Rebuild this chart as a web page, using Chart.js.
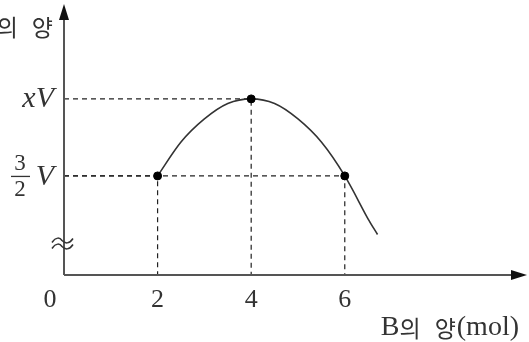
<!DOCTYPE html>
<html>
<head>
<meta charset="utf-8">
<script src="https://cdn.jsdelivr.net/npm/chart.js@4"></script>
<style>
  html, body { margin: 0; padding: 0; background: #fff; }
  #wrap { width: 529px; height: 342px; }
</style>
</head>
<body>
<div id="wrap"><canvas id="chart"></canvas></div>
<script>
// curve (B mol vs gas amount, arbitrary units; 3/2V = 1.5, xV = 2)
const curveX = [2, 2.5, 3, 3.5, 4, 4.5, 5, 5.5, 6, 6.5, 6.7];
const curveY = [1.5, 1.72, 1.87, 1.97, 2.0, 1.97, 1.87, 1.72, 1.5, 1.22, 1.12];

// marked points
const markX = [2, 4, 6];
const markY = [1.5, 2.0, 1.5];

const xTicks = [2, 4, 6];
const yTickVals = [2.0, 1.5];

const X_MIN = 0, X_MAX = 9.83;
const Y_MIN = 0.857, Y_MAX = 2.59;

const ink = "#222";
const axisColor = "#555";
const serif = "'Liberation Serif', 'DejaVu Serif', serif";
const kr = "'Noto Sans CJK KR', sans-serif";

const curveData = curveX.map((x, i) => ({ x, y: curveY[i] }));
const markData = markX.map((x, i) => ({ x, y: markY[i] }));

// dashed guides: from y-axis to the point, then down to the x-axis
const guideSets = markX.map((x, i) => ({
  data: [{ x: X_MIN, y: markY[i] }, { x, y: markY[i] }, { x, y: Y_MIN }],
  borderColor: ink,
  borderWidth: 1.2,
  borderDash: [5, 4],
  pointRadius: 0,
  showLine: true,
  fill: false,
  order: 3
}));

// draws text pieces with mixed fonts, ending at xRight
function drawPieces(ctx, pieces, xRight, y) {
  let total = 0;
  pieces.forEach(p => { ctx.font = p.font; p.w = ctx.measureText(p.text).width; total += p.w + (p.gap || 0); });
  let x = xRight - total;
  ctx.textAlign = "left";
  pieces.forEach(p => { ctx.font = p.font; x += (p.gap || 0); ctx.fillText(p.text, x, y); x += p.w; });
}

const axesPlugin = {
  id: "axesPlugin",
  afterDraw(chart) {
    const { ctx, chartArea, scales } = chart;
    const x0 = scales.x.getPixelForValue(X_MIN);
    const y0 = scales.y.getPixelForValue(Y_MIN);
    ctx.save();

    // axes
    ctx.strokeStyle = axisColor;
    ctx.lineWidth = 2;
    ctx.beginPath();
    ctx.moveTo(x0, y0);
    ctx.lineTo(x0, chartArea.top + 8);
    ctx.moveTo(x0, y0);
    ctx.lineTo(chartArea.right - 8, y0);
    ctx.stroke();
    // arrow heads
    ctx.fillStyle = "#111";
    ctx.beginPath();
    ctx.moveTo(x0, chartArea.top - 4);
    ctx.lineTo(x0 - 5, chartArea.top + 12);
    ctx.lineTo(x0 + 5, chartArea.top + 12);
    ctx.closePath();
    ctx.fill();
    ctx.beginPath();
    ctx.moveTo(chartArea.right + 3, y0);
    ctx.lineTo(chartArea.right - 13, y0 - 5);
    ctx.lineTo(chartArea.right - 13, y0 + 5);
    ctx.closePath();
    ctx.fill();

    // axis break mark
    ctx.strokeStyle = "#333";
    ctx.lineWidth = 1.5;
    [240.5, 246.5].forEach(by => {
      ctx.beginPath();
      ctx.moveTo(52, by + 2);
      ctx.bezierCurveTo(56, by - 4, 60, by - 3, 62, by);
      ctx.bezierCurveTo(65, by + 3, 69, by + 4, 73, by - 2);
      ctx.stroke();
    });

    // x tick labels
    ctx.fillStyle = "#333";
    ctx.font = "26px " + serif;
    ctx.textAlign = "center";
    ctx.textBaseline = "middle";
    xTicks.forEach(v => {
      ctx.fillText(String(v), scales.x.getPixelForValue(v), 300);
    });
    ctx.fillText("0", x0 - 14, 300);

    // x axis title
    drawPieces(ctx, [
      { text: "B", font: "28px " + serif },
      { text: "의", font: "23px " + kr },
      { text: "양", font: "23px " + kr, gap: 14 },
      { text: "(mol)", font: "28px " + serif, gap: 1 }
    ], 519, 328);

    // y axis title (clipped at the left edge like the original)
    drawPieces(ctx, [
      { text: "의", font: "23px " + kr },
      { text: "양", font: "23px " + kr, gap: 14 }
    ], 53, 27);

    // y tick labels
    const yx = scales.y.getPixelForValue(yTickVals[0]);
    const yf = scales.y.getPixelForValue(yTickVals[1]);
    ctx.font = "italic 30px " + serif;
    ctx.textAlign = "right";
    ctx.fillText("xV", 54, yx);
    ctx.fillText("V", 54, yf + 1);
    ctx.font = "23px " + serif;
    ctx.textAlign = "center";
    ctx.fillText("3", 20, yf - 12);
    ctx.fillText("2", 20, yf + 14);
    ctx.lineWidth = 1.3;
    ctx.strokeStyle = "#333";
    ctx.beginPath();
    ctx.moveTo(11, yf + 0.5);
    ctx.lineTo(30, yf + 0.5);
    ctx.stroke();

    ctx.restore();
  }
};

new Chart(document.getElementById("chart"), {
  type: "scatter",
  data: {
    datasets: [
      {
        data: markData,
        backgroundColor: "#000",
        borderColor: "#000",
        pointRadius: 4,
        pointHoverRadius: 4,
        order: 1
      },
      {
        data: curveData,
        showLine: true,
        borderColor: "#333",
        borderWidth: 1.6,
        pointRadius: 0,
        tension: 0.3,
        fill: false,
        order: 2
      },
      ...guideSets
    ]
  },
  options: {
    responsive: true,
    maintainAspectRatio: false,
    animation: false,
    events: [],
    layout: { padding: { left: 64, right: 4, top: 8, bottom: 67 } },
    plugins: { legend: { display: false }, tooltip: { enabled: false } },
    scales: {
      x: { type: "linear", min: X_MIN, max: X_MAX, display: false },
      y: { type: "linear", min: Y_MIN, max: Y_MAX, display: false }
    }
  },
  plugins: [axesPlugin]
});
</script>
</body>
</html>
